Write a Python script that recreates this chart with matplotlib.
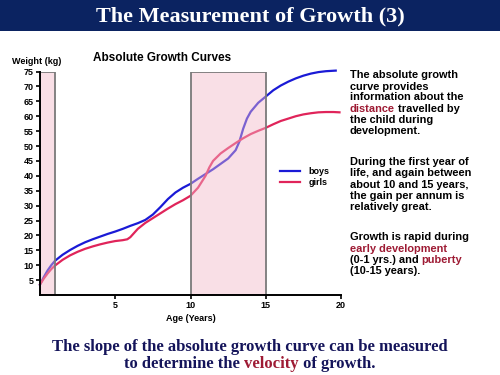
import matplotlib
matplotlib.use("Agg")
import matplotlib.pyplot as plt
from matplotlib.patches import Rectangle

# ---- data ----
boys_age = [0, 0.25, 0.5, 0.75, 1, 1.5, 2, 2.5, 3, 3.5, 4, 4.5, 5, 5.5, 6, 6.5, 7, 7.5, 8,
            8.5, 9, 9.5, 10, 10.5, 11, 11.5, 12, 12.5, 13, 13.25, 13.5, 13.75, 14, 14.5,
            15, 15.5, 16, 16.5, 17, 17.5, 18, 18.5, 19, 19.65]
boys_wt = [3.5, 6.0, 8.2, 10.0, 11.5, 13.5, 15.1, 16.5, 17.7, 18.7, 19.6, 20.5, 21.3, 22.2,
           23.2, 24.1, 25.2, 27.0, 29.5, 32.2, 34.4, 36.0, 37.3, 39.0, 40.6, 42.2, 44.0,
           45.8, 48.6, 51.5, 55.8, 59.2, 61.5, 64.5, 66.6, 68.7, 70.3, 71.6, 72.7, 73.6,
           74.3, 74.8, 75.1, 75.3]
girls_age = [0, 0.25, 0.5, 0.75, 1, 1.5, 2, 2.5, 3, 3.5, 4, 4.5, 5, 5.5, 5.8, 6, 6.25, 6.5,
             7, 7.5, 8, 8.5, 9, 9.5, 10, 10.5, 11, 11.25, 11.5, 12, 12.5, 13, 13.5, 14,
             14.5, 15, 15.5, 16, 16.5, 17, 17.5, 18, 18.5, 19, 19.5, 19.9]
girls_wt = [3.5, 5.5, 7.2, 8.7, 9.9, 11.8, 13.3, 14.5, 15.5, 16.3, 17.0, 17.6, 18.1, 18.4,
            18.7, 19.4, 20.8, 22.2, 24.2, 25.8, 27.4, 29.0, 30.5, 31.8, 33.3, 36.0, 40.0,
            42.8, 45.0, 47.5, 49.3, 51.0, 52.6, 54.0, 55.1, 56.1, 57.3, 58.4, 59.2, 60.0,
            60.6, 61.0, 61.3, 61.4, 61.4, 61.3]
shaded_periods = [(0, 1), (10, 15)]
y_ticks = [5, 10, 15, 20, 25, 30, 35, 40, 45, 50, 55, 60, 65, 70, 75]
x_ticks = [5, 10, 15, 20]

NAVY = "#0b2361"
DARKRED = "#9e1b34"
BOY = "#1a1ad6"
GIRL = "#e0245a"

fig = plt.figure(figsize=(5, 3.75), dpi=100)
W, H = 500, 375

def fx(px):
    return px / W

def fy(py):
    return 1 - py / H

# title banner
fig.patches.append(Rectangle((0, fy(31)), 1, 31 / H, transform=fig.transFigure,
                             facecolor=NAVY, edgecolor="none", zorder=0))
fig.text(0.5, fy(16), "The Measurement of Growth (3)", color="white", ha="center",
         va="center", fontsize=16, fontweight="bold", family="Liberation Serif")

ax = fig.add_axes([fx(40), fy(295), fx(341) - fx(40), fy(71.5) - fy(295)])
ax.plot(boys_age, boys_wt, color=BOY, lw=1.6, label="boys", zorder=2, clip_on=False,
        solid_joinstyle="round")
ax.plot(girls_age, girls_wt, color=GIRL, lw=1.6, label="girls", zorder=2, clip_on=False,
        solid_joinstyle="round")
for a, b in shaded_periods:
    ax.add_patch(Rectangle((a, 0), b - a, 75, facecolor=(0.95, 0.72, 0.79, 0.45),
                           edgecolor="none", zorder=3))
    ax.add_patch(Rectangle((a, 0), b - a, 75, facecolor="none",
                           edgecolor="#7a7a7a", lw=1.3, zorder=4))
ax.set_xlim(0, 20)
ax.set_ylim(0, 75)
for s in ["top", "right"]:
    ax.spines[s].set_visible(False)
for s in ["left", "bottom"]:
    ax.spines[s].set_linewidth(1.4)
    ax.spines[s].set_zorder(5)
ax.set_yticks(y_ticks)
ax.set_xticks(x_ticks)
ax.tick_params(length=3, width=1.2, labelsize=6.5, pad=1.5)
for lab in ax.get_xticklabels() + ax.get_yticklabels():
    lab.set_fontweight("bold")
    lab.set_family("Liberation Sans")
ax.set_xlabel("Age (Years)", fontsize=6.5, fontweight="bold", family="Liberation Sans",
              labelpad=3)
leg = ax.legend(loc="upper left", bbox_to_anchor=(0.77, 0.61), frameon=False,
                prop={"weight": "bold", "size": 6.5, "family": "Liberation Sans"},
                handlelength=2.2, labelspacing=0.3, handletextpad=1.0)

fig.text(fx(12), fy(62), "Weight (kg)", fontsize=6.5, fontweight="bold",
         family="Liberation Sans", va="center")
fig.text(fx(93), fy(58), "Absolute Growth Curves", fontsize=8.5, fontweight="bold",
         family="Liberation Sans", va="center")

renderer = fig.canvas.get_renderer()

def width_of(s, **kw):
    t = fig.text(0, 0, s, **kw)
    w = t.get_window_extent(renderer).width / fig.bbox.width
    t.remove()
    return w

def rich(x, ybase, parts, align="left", **kw):
    full = "".join(s for s, _ in parts)
    total = width_of(full, **kw)
    x0 = x - total / 2 if align == "center" else x
    for i, (s, c) in enumerate(parts):
        rest = "".join(p for p, _ in parts[i:])
        off = total - width_of(rest, **kw) if i > 0 else 0
        fig.text(x0 + off, ybase, s, color=c, va="baseline", **kw)

K = "black"
side = dict(fontsize=7.9, fontweight="bold", family="Liberation Sans")
lines = [
    (75, [("The absolute growth", K)]),
    (86, [("curve provides", K)]),
    (97, [("information about the", K)]),
    (108.3, [("distance", DARKRED), (" travelled by", K)]),
    (120, [("the child during", K)]),
    (131, [("development.", K)]),
    (161.7, [("During the first year of", K)]),
    (173, [("life, and again between", K)]),
    (184.3, [("about 10 and 15 years,", K)]),
    (195.3, [("the gain per annum is", K)]),
    (206.7, [("relatively great.", K)]),
    (236.7, [("Growth is rapid during", K)]),
    (248.3, [("early development", DARKRED)]),
    (259.7, [("(0-1 yrs.) and ", K), ("puberty", DARKRED)]),
    (270.7, [("(10-15 years).", K)]),
]
for py, parts in lines:
    rich(fx(350), fy(py + 3.5), parts, **side)

bottom = dict(fontsize=12, fontweight="bold", family="Liberation Serif")
rich(0.5, fy(351), [("The slope of the absolute growth curve can be measured", "#14145a")],
     align="center", **bottom)
rich(0.5, fy(367.5), [("to determine the ", "#14145a"), ("velocity", DARKRED),
                      (" of growth.", "#14145a")], align="center", **bottom)

fig.savefig("out.png", dpi=100)
